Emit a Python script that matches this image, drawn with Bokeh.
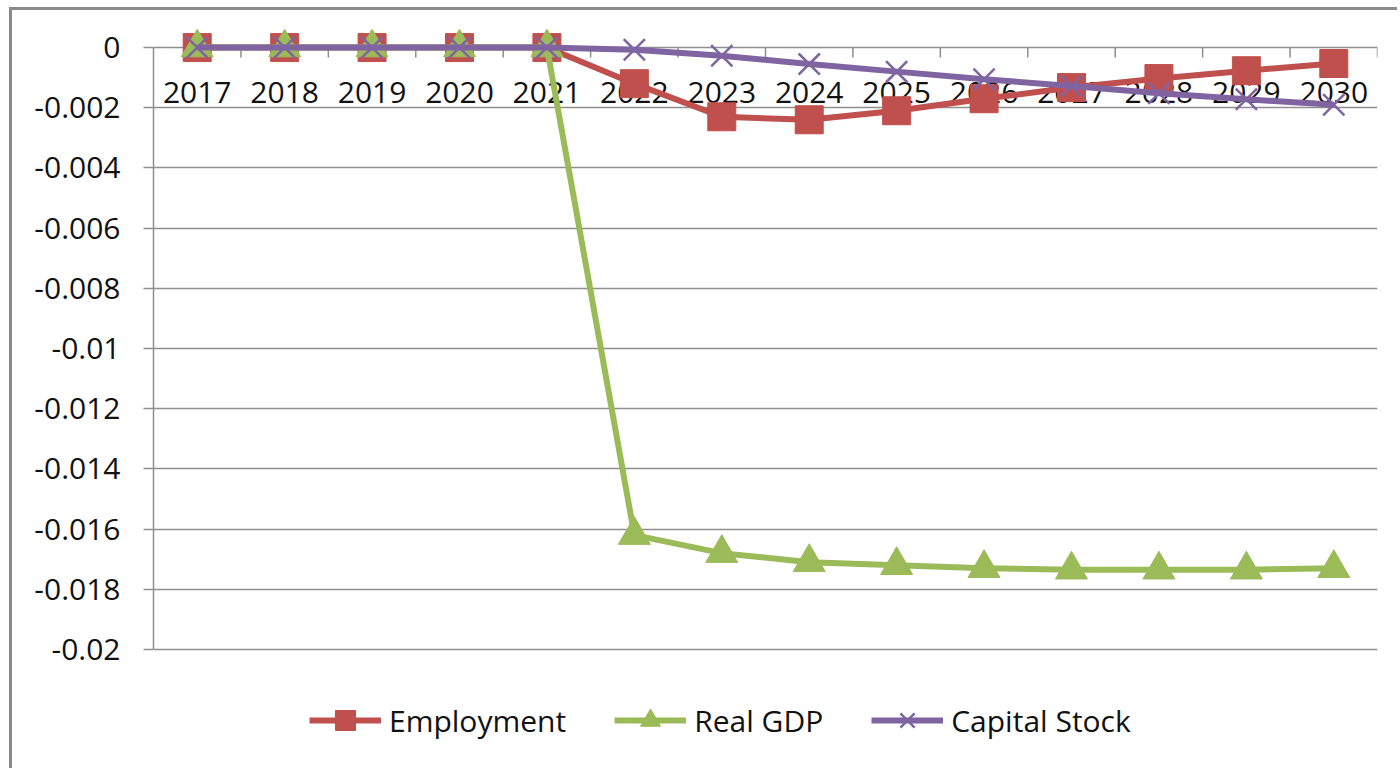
from bokeh.plotting import figure
from bokeh.models import (FactorRange, Range1d, FixedTicker, CustomJSTickFormatter,
                          Legend, LegendItem)
from bokeh.core.properties import value
from bokeh.embed import file_html
from bokeh.resources import INLINE
import numpy as np

years = ["2017", "2018", "2019", "2020", "2021", "2022", "2023",
         "2024", "2025", "2026", "2027", "2028", "2029", "2030"]
employment = [0, 0, 0, 0, 0, -0.0012, -0.0023, -0.0024, -0.0021, -0.0017,
              -0.00133, -0.00103, -0.00077, -0.00053]
real_gdp = [0, 0, 0, 0, 0, -0.0162, -0.0168, -0.0171, -0.0172, -0.0173,
            -0.01735, -0.01735, -0.01735, -0.0173]
capital_stock = [0, 0, 0, 0, 0, -0.00007, -0.00027, -0.00055, -0.0008, -0.00105,
                 -0.00128, -0.00152, -0.00172, -0.0019]
y_ticks = [0, -0.002, -0.004, -0.006, -0.008, -0.01, -0.012, -0.014,
           -0.016, -0.018, -0.02]

FONT = "Open Sans"
GRID = "#8e8e8e"
RED = "#C0504D"
GREEN = "#9BBB59"
PURPLE = "#8064A2"

p = figure(width=1388, height=761, x_range=FactorRange(*years, range_padding=0),
           y_range=Range1d(-0.024054, 0.0006), output_backend="svg",
           toolbar_location=None, x_axis_location=None,
           min_border_left=141, min_border_right=23, min_border_top=19,
           min_border_bottom=0)
p.styles = {"margin-left": "9px", "margin-top": "7px",
            "border-left": "3px solid #8a8a8a", "border-top": "3px solid #8a8a8a"}
p.outline_line_color = None
p.background_fill_color = "white"
p.border_fill_color = "white"

p.xgrid.visible = False
p.ygrid.ticker = FixedTicker(ticks=y_ticks)
p.ygrid.grid_line_color = GRID
p.ygrid.grid_line_width = 1.5

ax = p.yaxis[0]
ax.ticker = FixedTicker(ticks=y_ticks)
ax.bounds = (min(y_ticks), max(y_ticks))
ax.formatter = CustomJSTickFormatter(
    code="return tick == 0 ? '0' : parseFloat(tick.toFixed(4)).toString();")
ax.major_tick_in = 0
ax.major_tick_out = 10
ax.minor_tick_line_color = None
ax.major_tick_line_color = GRID
ax.major_tick_line_width = 1.5
ax.axis_line_color = GRID
ax.axis_line_width = 1.5
ax.major_label_standoff = 23
ax.major_label_text_font = FONT
ax.major_label_text_font_size = "30px"
ax.major_label_text_color = "#111111"

# category axis drawn at y = 0: tick marks at category boundaries and labels
bounds = np.arange(1, len(years) + 1)
p.segment(x0=bounds, x1=bounds, y0=[0] * len(bounds), y1=[-0.00033] * len(bounds),
          line_color=GRID, line_width=1.5)
p.text(x=years, y=[0] * len(years), text=years, text_align="center",
       text_baseline="middle", y_offset=45, text_font=value(FONT),
       text_font_size="30px", text_color="#111111")

l1 = p.line(years, employment, line_color=RED, line_width=6)
m1 = p.scatter(years, employment, marker="square", size=28, fill_color=RED,
               line_color=RED)
l2 = p.line(years, real_gdp, line_color=GREEN, line_width=6)
m2 = p.scatter(years, real_gdp, marker="triangle", size=32, fill_color=GREEN,
               line_color=GREEN)
l3 = p.line(years, capital_stock, line_color=PURPLE, line_width=6)
m3 = p.scatter(years, capital_stock, marker="x", size=30, line_color=PURPLE,
               line_width=2.5)

legend = Legend(items=[LegendItem(label="Employment", renderers=[l1, m1]),
                       LegendItem(label="Real GDP", renderers=[l2, m2]),
                       LegendItem(label="Capital Stock", renderers=[l3, m3])],
                orientation="horizontal", location=(156, 26),
                glyph_width=72, glyph_height=50, label_standoff=8, spacing=48,
                padding=0, margin=0, border_line_color=None,
                background_fill_alpha=0, label_text_font=FONT,
                label_text_font_size="30px", label_text_color="#111111")
p.add_layout(legend, "center")

open("out.html", "w").write(file_html(p, INLINE))
